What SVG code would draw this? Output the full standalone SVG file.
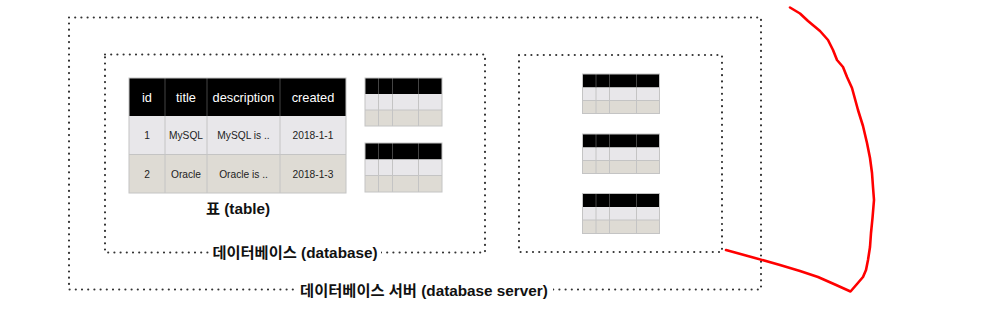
<svg xmlns="http://www.w3.org/2000/svg" width="1003" height="324" viewBox="0 0 1003 324">
<style>
.dot{fill:none;stroke:#333;stroke-width:2.2;stroke-linecap:round;stroke-dasharray:0 6.2}
.lbl{font-family:"Liberation Sans","Noto Sans CJK KR",sans-serif;font-weight:bold;font-size:15.3px;fill:#111;text-anchor:middle}
.hd{font-family:"Liberation Sans",sans-serif;font-size:12.8px;fill:#fff;text-anchor:middle}
.cell{font-family:"Liberation Sans",sans-serif;font-size:10.2px;fill:#222;text-anchor:middle}
.h{fill:#000}
.r1{fill:#e8e7ea}
.r2{fill:#dedbd4}
.grid{stroke:#c4c4c4;stroke-width:1;fill:none}
.hgrid{stroke:#444;stroke-width:1}
.bg{fill:#fff}
</style>
<rect width="1003" height="324" fill="#fff"/>

<g id="server">
<rect class="dot" x="69" y="17.5" width="692" height="272"/>
<rect class="bg" x="296" y="280" width="257" height="20"/>
<text class="lbl" x="424" y="295.5">데이터베이스 서버 (database server)</text>
</g>

<g id="database1">
<rect class="dot" x="105" y="54.5" width="380" height="198"/>
<rect class="bg" x="209" y="243" width="172" height="20"/>
<text class="lbl" x="295" y="258">데이터베이스 (database)</text>
</g>

<g id="database2">
<rect class="dot" x="519" y="55" width="203" height="197"/>
</g>

<g id="table-main">
<rect class="h" x="129" y="78" width="217" height="38"/>
<rect class="r1" x="129" y="116" width="217" height="38.5"/>
<rect class="r2" x="129" y="154.5" width="217" height="38.5"/>
<path class="hgrid" d="M165 78V116M207 78V116M280 78V116"/>
<path class="grid" d="M165 116V193M207 116V193M280 116V193M129 154.5H346"/>
<rect class="grid" x="129" y="78" width="217" height="115"/>
<text class="hd" x="147" y="101.5">id</text>
<text class="hd" x="186" y="101.5">title</text>
<text class="hd" x="243.5" y="101.5">description</text>
<text class="hd" x="313" y="101.5">created</text>
<text class="cell" x="147" y="139">1</text>
<text class="cell" x="186" y="139">MySQL</text>
<text class="cell" x="243.5" y="139">MySQL is ..</text>
<text class="cell" x="313" y="139">2018-1-1</text>
<text class="cell" x="147" y="177.5">2</text>
<text class="cell" x="186" y="177.5">Oracle</text>
<text class="cell" x="243.5" y="177.5">Oracle is ..</text>
<text class="cell" x="313" y="177.5">2018-1-3</text>
<text class="lbl" x="238" y="213.5">표 (table)</text>
</g>

<g id="table-small-1">
<rect class="h" x="365" y="78" width="77" height="16"/>
<rect class="r1" x="365" y="94" width="77" height="16"/>
<rect class="r2" x="365" y="110" width="77" height="16"/>
<path class="hgrid" d="M378.5 78V94M392.5 78V94M418.5 78V94"/>
<path class="grid" d="M378.5 94V126M392.5 94V126M418.5 94V126M365 110H442"/>
<rect class="grid" x="365" y="78" width="77" height="48"/>
</g>

<g id="table-small-2">
<rect class="h" x="365" y="143" width="77" height="16.5"/>
<rect class="r1" x="365" y="159.5" width="77" height="16"/>
<rect class="r2" x="365" y="175.5" width="77" height="16.5"/>
<path class="hgrid" d="M378.5 143V159.5M392.5 143V159.5M418.5 143V159.5"/>
<path class="grid" d="M378.5 159.5V192M392.5 159.5V192M418.5 159.5V192M365 175.5H442"/>
<rect class="grid" x="365" y="143" width="77" height="49"/>
</g>

<g id="table-right-1">
<rect class="h" x="582.5" y="74" width="77" height="13.5"/>
<rect class="r1" x="582.5" y="87.5" width="77" height="13"/>
<rect class="r2" x="582.5" y="100.5" width="77" height="13"/>
<path class="hgrid" d="M596 74V87.5M609.5 74V87.5M636.5 74V87.5"/>
<path class="grid" d="M596 87.5V113.5M609.5 87.5V113.5M636.5 87.5V113.5M582.5 100.5H659.5"/>
<rect class="grid" x="582.5" y="74" width="77" height="39.5"/>
</g>

<g id="table-right-2">
<rect class="h" x="582.5" y="134" width="77" height="13.5"/>
<rect class="r1" x="582.5" y="147.5" width="77" height="13"/>
<rect class="r2" x="582.5" y="160.5" width="77" height="13"/>
<path class="hgrid" d="M596 134V147.5M609.5 134V147.5M636.5 134V147.5"/>
<path class="grid" d="M596 147.5V173.5M609.5 147.5V173.5M636.5 147.5V173.5M582.5 160.5H659.5"/>
<rect class="grid" x="582.5" y="134" width="77" height="39.5"/>
</g>

<g id="table-right-3">
<rect class="h" x="582.5" y="193.5" width="77" height="13.5"/>
<rect class="r1" x="582.5" y="207" width="77" height="13"/>
<rect class="r2" x="582.5" y="220" width="77" height="13.5"/>
<path class="hgrid" d="M596 193.5V207M609.5 193.5V207M636.5 193.5V207"/>
<path class="grid" d="M596 207V233.5M609.5 207V233.5M636.5 207V233.5M582.5 220H659.5"/>
<rect class="grid" x="582.5" y="193.5" width="77" height="40"/>
</g>

<g id="connectors">
<path d="M790 7.5L800 13.5L808 21L820 31L828 40L833 50L837 60L843 67L847 77L852 88L858 110L863 126L867 143L870 158L872 173L873 187L874 200L872.5 218L871 233L870 247L868 260L866 270L863 277L857 284L850.5 291.5L835 284.5L818 277L800 271L780 265L755 258L726 250" fill="none" stroke="#ff0000" stroke-width="2.6" stroke-linejoin="round" stroke-linecap="round"/>
</g>
</svg>
